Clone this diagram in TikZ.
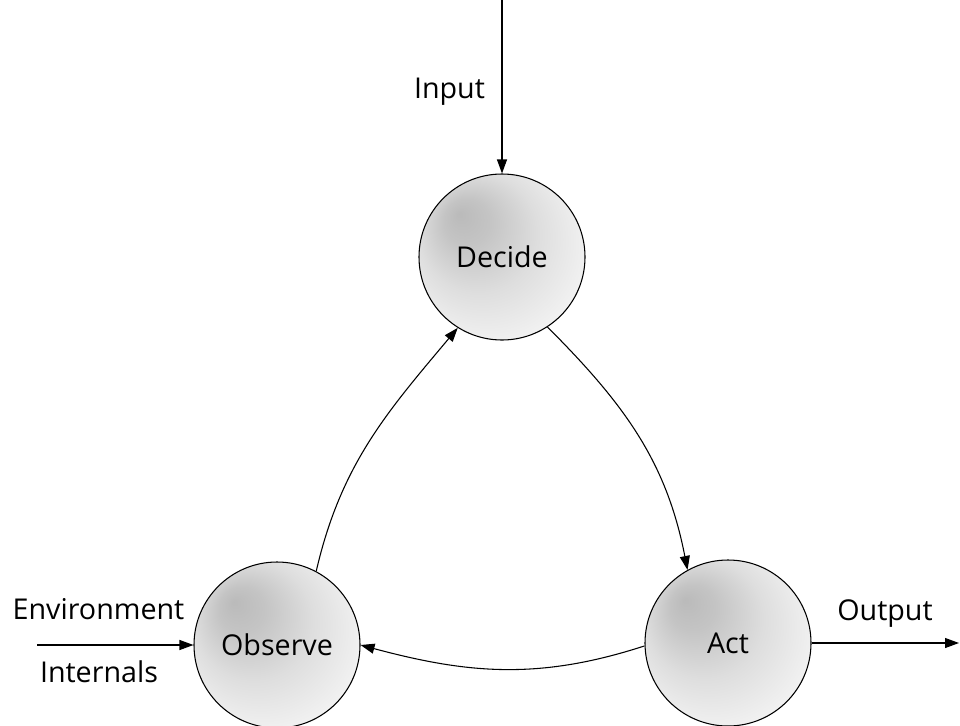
\documentclass[tikz,border=0pt]{standalone}
\usepackage{fontspec}
\setmainfont{Open Sans}
\usetikzlibrary{arrows.meta}
% soft radial fill whose darkest spot sits towards the upper left
% (a node's bounding box is mapped onto the central 50bp of the shading)
\pgfdeclareradialshading{stateglow}{\pgfpoint{-13bp}{13bp}}{%
  color(0bp)=(black!27); color(7bp)=(black!23); color(18bp)=(black!13);
  color(30bp)=(black!5); color(40bp)=(white)}
\begin{document}
\begin{tikzpicture}[x=0.75pt,y=-0.75pt,
  state/.style={circle, draw, line width=0.8pt, minimum size=124.5pt,
    inner sep=0pt, shade, shading=stateglow, font=\fontsize{21.5}{24}\selectfont},
  lbl/.style={font=\fontsize{21.5}{24}\selectfont, inner sep=0pt, anchor=base},
  flow/.style={line width=0.8pt, -{Triangle[length=10.5pt,width=7.5pt]}}]
\useasboundingbox (0,0) rectangle (960,725);

% the three stages of the loop
\node[state] (decide)  at (502,257) {Decide};
\node[state] (observe) at (277,645) {Observe};
\node[state] (act)     at (728,643) {Act};

% loose ends of the outer arrows
\coordinate (inTop)  at (502,0);
\coordinate (envIn)  at (37,645);
\coordinate (outEnd) at (959,643);

% labels
\node[lbl] (inputLbl)  at (449.5,98) {Input};
\node[lbl] (envLbl)    at (98.5,619) {Environment};
\node[lbl] (intLbl)    at (99,682)   {Internals};
\node[lbl] (outputLbl) at (885,620)  {Output};

% external flows
\draw[flow] (inTop) -- (decide.north);
\draw[flow] (envIn) -- (observe.west);
\draw[flow] (act.east) -- (outEnd);

% the loop
\draw[flow] (observe.62) to[out=77,in=230] (decide.238);
\draw[flow] (decide.303) to[out=-45,in=101] (act.119);
\draw[flow] (act.182) to[out=198,in=-15] (observe.0);
\end{tikzpicture}
\end{document}
